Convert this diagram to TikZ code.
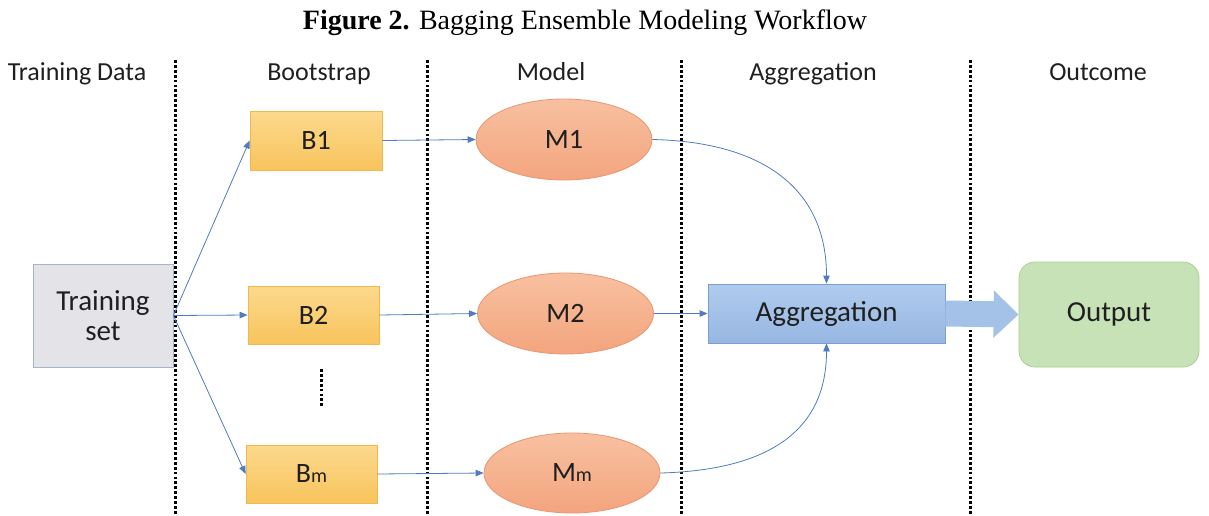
\documentclass[tikz,border=0pt]{standalone}
\usepackage{fontspec}
\setmainfont{Liberation Serif}
\newfontfamily\carlitofont{Carlito}
\usetikzlibrary{shapes.geometric,arrows.meta}
\definecolor{conn}{HTML}{4F7CC0}
\definecolor{grayfill}{HTML}{E4E4E8}
\definecolor{grayedge}{HTML}{A7B3C8}
\definecolor{btop}{HTML}{FCD98E}
\definecolor{bbot}{HTML}{F8C45C}
\definecolor{bedge}{HTML}{F2B84E}
\definecolor{mtop}{HTML}{F8C0A0}
\definecolor{mbot}{HTML}{F3A57E}
\definecolor{medge}{HTML}{E99670}
\definecolor{atop}{HTML}{B0CBEE}
\definecolor{abot}{HTML}{97B7E2}
\definecolor{aedge}{HTML}{7BA0D0}
\definecolor{bigarrow}{HTML}{A4C1E8}
\definecolor{ofill}{HTML}{C8E2B8}
\definecolor{oedge}{HTML}{A8CF90}
\tikzset{
  lbl/.style={font=\carlitofont\fontsize{29}{30}\selectfont, text=black!88},
  hdr/.style={font=\carlitofont\fontsize{26}{26}\selectfont, text=black!88, anchor=base},
  bbox/.style={draw=bedge, line width=0.8pt, top color=btop, bottom color=bbot, minimum width=131pt, minimum height=58pt, inner sep=0pt, lbl, font=\carlitofont\fontsize{28}{28}\selectfont},
  mell/.style={ellipse, draw=medge, line width=0.8pt, top color=mtop, bottom color=mbot, minimum width=176pt, minimum height=81pt, inner sep=0pt, lbl, font=\carlitofont\fontsize{28}{28}\selectfont},
  conn/.style={draw=conn, line width=0.8pt, -{Triangle[length=8pt,width=6.5pt]}},
  sep/.style={line width=3pt, dash pattern=on 2.8pt off 2.1pt, black},
}
\newcommand{\smallm}{{\fontsize{20}{20}\selectfont m}}
\begin{document}
\begin{tikzpicture}[x=1pt,y=-1pt]
\useasboundingbox (0,0) rectangle (1209,515);
% title
\node[anchor=base, font=\fontsize{28}{28}\selectfont] (title) at (585,29) {\textbf{Figure 2.} Bagging Ensemble Modeling Workflow};
% headers
\node[hdr] (h1) at (77,80) {Training Data};
\node[hdr] (h2) at (319,80) {Bootstrap};
\node[hdr] (h3) at (551,80) {Model};
\node[hdr] (h4) at (813,80) {Aggregation};
\node[hdr] (h5) at (1098,80) {Outcome};
% separators
\draw[sep] (175,60) -- (175,515);
\draw[sep] (427,60) -- (427,515);
\draw[sep] (681,60) -- (681,515);
\draw[sep] (970,60) -- (970,515);
% nodes
\node[draw=grayedge, line width=0.8pt, fill=grayfill, minimum width=140pt, minimum height=103pt, inner sep=0pt, lbl, align=center] (ts) at (103,315.5) {Training\\set};
\node[bbox, minimum width=132pt, minimum height=59pt] (b1) at (316,140.5) {B1};
\node[bbox] (b2) at (313.5,315) {B2};
\node[bbox] (bm) at (311.5,474) {B\smallm};
\node[mell] (m1) at (564,139.5) {M1};
\node[mell] (m2) at (565.5,313.5) {M2};
\node[mell, minimum height=80pt] (mm) at (572,473) {M\smallm};
\node[draw=aedge, line width=0.8pt, top color=atop, bottom color=abot, minimum width=237pt, minimum height=59pt, inner sep=0pt, lbl] (agg) at (826.5,313.5) {Aggregation};
\node[draw=oedge, line width=0.8pt, fill=ofill, rounded corners=16pt, minimum width=180pt, minimum height=105pt, inner sep=0pt, lbl] (out) at (1109,314.5) {Output};
% dots
\draw[sep] (321,369) -- (321,407);
% connectors
\draw[conn] (ts.east) -- (b1.west);
\draw[conn] (ts.east) -- (b2.west);
\draw[conn] (ts.east) -- (bm.west);
\draw[conn] (b1.east) -- (m1.west);
\draw[conn] (b2.east) -- (m2.west);
\draw[conn] (bm.east) -- (mm.west);
\draw[conn] (m2.east) -- (agg.west);
\draw[conn] (m1.east) .. controls (765,142) and (826.5,190) .. (agg.north);
\draw[conn] (mm.east) .. controls (770,470) and (826.5,430) .. (agg.south);
\draw[bigarrow, line width=26pt, -{Triangle[length=25pt,width=46pt]}] (agg.east) -- (out.west);
\end{tikzpicture}
\end{document}
